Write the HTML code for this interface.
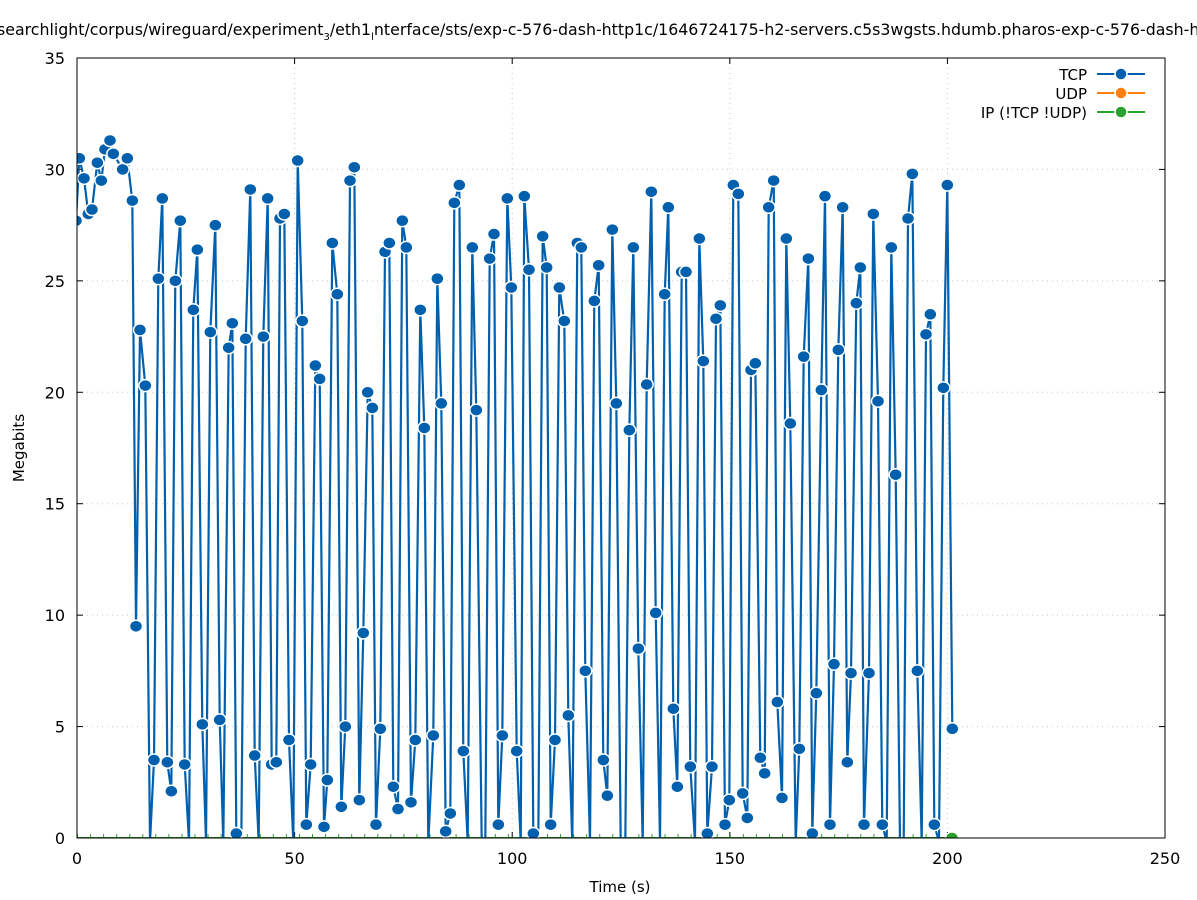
<!DOCTYPE html>
<html><head><meta charset="utf-8"><style>
html,body{margin:0;padding:0;background:#fff;}
svg{display:block;font-family:"DejaVu Sans","Liberation Sans",sans-serif;}
</style></head><body>
<svg id="s" width="1197" height="900" xmlns="http://www.w3.org/2000/svg">
<rect width="1197" height="900" fill="#fff"/>
<text x="-3" y="35" font-size="15.8" fill="#000">searchlight/corpus/wireguard/experiment<tspan font-size="10" dy="5">3</tspan><tspan dy="-5">/eth1</tspan><tspan font-size="10" dy="5">l</tspan><tspan dy="-5">nterface/sts/exp-c-576-dash-http1c/1646724175-h2-servers.c5s3wgsts.hdumb.pharos-exp-c-576-dash-http1c</tspan></text>
<g id="grid" stroke="#c8c8c8" stroke-width="1" stroke-dasharray="1,4"></g>
<g id="ticks" font-size="16" fill="#000"></g>
<defs><clipPath id="cp"><rect x="77" y="58" width="1088" height="780"/></clipPath></defs>
<g id="ser" clip-path="url(#cp)"></g>
<rect x="77" y="58" width="1088" height="780" fill="none" stroke="#000" stroke-width="1"/>
<text x="620" y="892" font-size="15" text-anchor="middle">Time (s)</text>
<text x="24" y="448" font-size="15" text-anchor="middle" transform="rotate(-90 24 448)">Megabits</text>
<g font-size="15" text-anchor="end">
<text x="1087" y="80">TCP</text>
<text x="1087" y="99">UDP</text>
<text x="1087" y="118">IP (!TCP  !UDP)</text>
</g>
<g stroke-width="2">
<line x1="1097" y1="74" x2="1145" y2="74" stroke="#0060ad"/>
<circle cx="1121" cy="74" r="6" fill="#0060ad" stroke="#fff" stroke-width="1.5"/>
<line x1="1097" y1="93" x2="1145" y2="93" stroke="#ff7f0e"/>
<circle cx="1121" cy="93" r="6" fill="#ff7f0e" stroke="#fff" stroke-width="1.5"/>
<line x1="1097" y1="112" x2="1145" y2="112" stroke="#2ca02c"/>
<circle cx="1121" cy="112" r="6" fill="#2ca02c" stroke="#fff" stroke-width="1.5"/>
</g>
</svg>
<script>
var NS="http://www.w3.org/2000/svg";
function el(p,t,a,txt){var e=document.createElementNS(NS,t);for(var k in a)e.setAttribute(k,a[k]);if(txt!=null)e.textContent=txt;p.appendChild(e);return e;}
var grid=document.getElementById('grid'),ticks=document.getElementById('ticks'),ser=document.getElementById('ser');
function Y(v){return 838-v*22.286;}
function X(t){return 77+t*4.352;}
for(var v=0;v<=35;v+=5){var y=Y(v);if(v>0&&v<35)el(grid,'line',{x1:77,y1:y,x2:1165,y2:y});
el(ticks,'text',{x:65,y:y+6,'text-anchor':'end'},String(v));el(ticks,'line',{x1:77,y1:y,x2:83,y2:y,stroke:'#000'});el(ticks,'line',{x1:1165,y1:y,x2:1159,y2:y,stroke:'#000'});}
for(var t=0;t<=250;t+=50){var x=X(t);if(t>0&&t<250)el(grid,'line',{x1:x,y1:58,x2:x,y2:838});
el(ticks,'text',{x:x,y:864,'text-anchor':'middle'},String(t));el(ticks,'line',{x1:x,y1:838,x2:x,y2:832,stroke:'#000'});el(ticks,'line',{x1:x,y1:58,x2:x,y2:64,stroke:'#000'});}
var secs=[[70,[[15,27.7],[28,30.5],[42,29.6],[55,28.0],[66,28.2],[82,30.3],[94,29.5],[105,30.9],[120,31.3],[130,30.7],[158,30.0],[172,30.5],[187,28.6],[198,9.5],[210,22.8],[226,20.3],[240,0],[252,3.5],[265,25.1],[277,28.7],[292,3.4],[304,2.1],[316,25.0],[331,27.7],[344,3.3],[357,0],[370,23.7],[382,26.4],[397,5.1],[408,0],[421,22.7],[436,27.5],[449,5.3],[460,0],[476,22.0],[487,23.1],[499,0.2],[514,0],[527,22.4],[541,29.1],[554,3.7],[566,0],[580,22.5],[593,28.7],[605,3.3],[619,3.4],[630,27.8],[643,28.0],[657,4.4],[670,0],[683,30.4],[697,23.2],[709,0.6],[722,3.3],[736,21.2],[749,20.6],[762,0.5],[772,2.6]]],
[320,[[37,26.7],[52,24.4],[64,1.4],[76,5.0],[90,29.5],[103,30.1],[118,1.7],[130,9.2],[143,20.0],[157,19.3],[168,0.6],[181,4.9],[195,26.3],[208,26.7],[220,2.3],[234,1.3],[247,27.7],[259,26.5],[273,1.6],[286,4.4],[301,23.7],[313,18.4],[325,0],[340,4.6],[352,25.1],[364,19.5],[377,0.3],[391,1.1],[403,28.5],[418,29.3],[430,3.9],[443,0],[457,26.5],[469,19.2],[485,0],[496,0],[509,26.0],[522,27.1],[535,0.6],[547,4.6],[562,28.7],[574,24.7],[590,3.9],[602,0],[613,28.8],[627,25.5],[640,0.2],[655,0],[668,27.0],[680,25.6],[692,0.6],[705,4.4],[718,24.7],[733,23.2],[745,5.5],[757,0],[772,26.7]]],
[570,[[34,26.5],[46,7.5],[60,0],[73,24.1],[86,25.7],[100,3.5],[112,1.9],[127,27.3],[139,19.5],[152,0],[166,0],[178,18.3],[190,26.5],[205,8.5],[218,0],[230,20.35],[244,29.0],[257,10.1],[270,0],[284,24.4],[295,28.3],[310,5.8],[322,2.3],[335,25.4],[348,25.4],[361,3.2],[375,0],[388,26.9],[400,21.4],[412,0.2],[426,3.2],[438,23.3],[451,23.9],[465,0.6],[478,1.7],[490,29.3],[505,28.9],[518,2.0],[532,0.9],[543,21.0],[556,21.3],[571,3.6],[584,2.9],[596,28.3],[611,29.5],[622,6.1],[636,1.8],[649,26.9],[661,18.6],[677,0],[688,4.0],[701,21.6],[715,26.0],[727,0.2],[739,6.5],[754,20.1],[765,28.8]]],
[820,[[30,0.6],[42,7.8],[55,21.9],[68,28.3],[82,3.4],[93,7.4],[109,24.0],[121,25.6],[132,0.6],[147,7.4],[160,28.0],[174,19.6],[187,0.6],[200,0],[214,26.5],[227,16.3],[240,0],[251,0],[264,27.8],[277,29.8],[292,7.5],[305,0],[318,22.6],[331,23.5],[343,0.6],[357,0],[370,20.2],[382,29.3],[397,4.9]]]];
var pts=[];secs.forEach(function(s){s[1].forEach(function(p){pts.push([s[0]+p[0]/3,p[1]]);});});
pts[0][0]=76;
var d=pts.map(function(p,i){return (i?'L':'M')+p[0].toFixed(1)+','+(p[1]<=0?842:Y(p[1])).toFixed(1);}).join('');
el(ser,'line',{x1:77,y1:838,x2:952,y2:838,stroke:'#2ca02c','stroke-width':2});
for(var t=0;t<=200;t+=1){var x=X(t)+0.5;if(t%3==0)el(ser,'line',{x1:x,y1:838,x2:x,y2:834,stroke:'#2ca02c','stroke-width':1});}
el(ser,'path',{d:d,fill:'none',stroke:'#0060ad','stroke-width':2.2,'stroke-linejoin':'round'});
pts.forEach(function(p){if(p[1]>0.1)el(ser,'ellipse',{cx:p[0],cy:Y(p[1]),rx:6.5,ry:6,fill:'#0060ad',stroke:'#fff','stroke-width':1.5});});
el(ser,'ellipse',{cx:952,cy:838,rx:6.5,ry:6,fill:'#2ca02c',stroke:'#fff','stroke-width':1.5});
</script>
</body></html>
